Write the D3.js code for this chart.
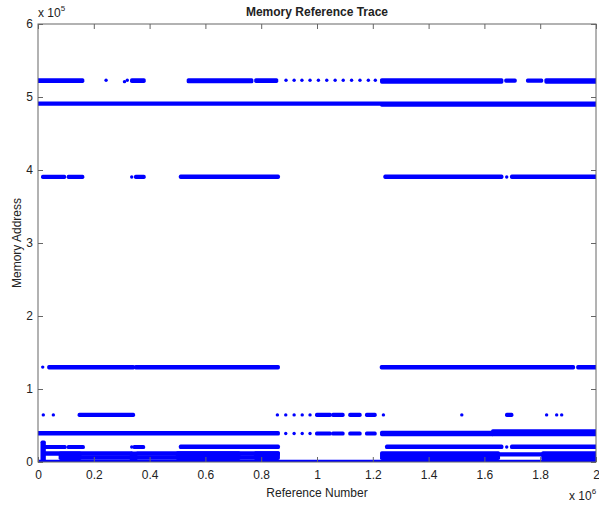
<!DOCTYPE html>
<html>
<head>
<meta charset="utf-8">
<script src="https://cdn.jsdelivr.net/npm/d3@7"></script>
<style>
  body { margin: 0; background: #fff; }
  #chart text { font-family: "Liberation Sans", Arial, sans-serif; fill: #222; }
</style>
</head>
<body>
<div id="chart"></div>
<script>
// x values in units of 1e6 references, addresses in units of 1e5
const xTicks = [0, 0.2, 0.4, 0.6, 0.8, 1, 1.2, 1.4, 1.6, 1.8, 2];
const yTicks = [0, 1, 2, 3, 4, 5, 6];

// runs of dense references: [refStart, refEnd, addrLow, addrHigh]
const band523Runs = [
  [0.0, 0.16, 5.215, 5.235], [0.336, 0.38, 5.215, 5.235], [0.539, 0.766, 5.21, 5.235],
  [0.781, 0.855, 5.215, 5.235], [1.232, 1.662, 5.205, 5.235], [1.677, 1.71, 5.22, 5.23],
  [1.755, 1.805, 5.22, 5.23], [1.821, 2.0, 5.205, 5.235]
];
const band523Dots = [
  [0.244, 5.23], [0.31, 5.21], [0.32, 5.23],
  [0.889, 5.23], [0.918, 5.23], [0.946, 5.23], [0.975, 5.23], [1.005, 5.23], [1.035, 5.23],
  [1.065, 5.23], [1.094, 5.23], [1.124, 5.23], [1.154, 5.23], [1.184, 5.23], [1.209, 5.23]
];
const band490Runs = [
  [0.0, 2.0, 4.905, 4.915], [1.232, 2.0, 4.89, 4.905]
];
const band390Runs = [
  [0.017, 0.095, 3.90, 3.91], [0.109, 0.16, 3.90, 3.91], [0.35, 0.38, 3.90, 3.91],
  [0.511, 0.861, 3.90, 3.915], [1.244, 1.662, 3.90, 3.915], [1.698, 2.0, 3.90, 3.915]
];
const band390Dots = [[0.336, 3.905], [1.68, 3.905]];
const band130Runs = [
  [0.039, 0.342, 1.29, 1.305], [0.35, 0.861, 1.29, 1.305],
  [1.231, 1.919, 1.29, 1.305], [1.935, 2.0, 1.29, 1.305]
];
const band130Dots = [[0.017, 1.30]];
const band065Runs = [
  [0.148, 0.342, 0.64, 0.65], [0.999, 1.047, 0.64, 0.65], [1.057, 1.093, 0.64, 0.65],
  [1.118, 1.154, 0.64, 0.65], [1.178, 1.208, 0.64, 0.65], [1.68, 1.698, 0.64, 0.65]
];
const band065Dots = [
  [0.019, 0.645], [0.055, 0.645], [0.858, 0.645], [0.888, 0.645], [0.918, 0.645],
  [0.947, 0.645], [0.975, 0.645], [1.238, 0.645], [1.519, 0.645],
  [1.823, 0.645], [1.859, 0.645], [1.877, 0.645]
];
const band040Runs = [
  [0.0, 0.861, 0.385, 0.40], [0.999, 1.047, 0.385, 0.395], [1.057, 1.093, 0.385, 0.395],
  [1.118, 1.154, 0.385, 0.395], [1.178, 1.208, 0.385, 0.395],
  [1.232, 1.63, 0.375, 0.405], [1.63, 2.0, 0.375, 0.425]
];
const band040Dots = [[0.888, 0.39], [0.918, 0.39], [0.947, 0.39], [0.975, 0.39]];
const band020Runs = [
  [0.025, 0.097, 0.20, 0.21], [0.109, 0.162, 0.20, 0.21], [0.345, 0.378, 0.20, 0.21],
  [0.511, 0.861, 0.20, 0.215], [1.25, 1.662, 0.20, 0.215], [1.698, 2.0, 0.20, 0.215]
];
const band020Dots = [[0.336, 0.205], [1.68, 0.205]];
const band010Runs = [
  [0.02, 0.335, 0.11, 0.125], [0.08, 0.15, 0.05, 0.12], [0.15, 0.335, 0.055, 0.07],
  [0.355, 0.861, 0.11, 0.125], [0.355, 0.5, 0.055, 0.07], [0.5, 0.72, 0.05, 0.125],
  [0.72, 0.78, 0.055, 0.07], [0.78, 0.861, 0.05, 0.125],
  [1.232, 1.65, 0.05, 0.125], [1.65, 2.0, 0.10, 0.11], [1.81, 2.0, 0.045, 0.125]
];
const scatterRuns = [
  [0.015, 0.022, 0.0, 0.27], [0.335, 0.35, 0.0, 0.12]
];
const band000Runs = [[0.0, 2.0, 0.0, 0.008]];

/** Class drawing the memory reference scatter trace. */
class TraceChart {

  constructor(){
    this.margin = {top: 24, right: 3, bottom: 46, left: 38};
    this.width = 599 - this.margin.left - this.margin.right;
    this.height = 508 - this.margin.top - this.margin.bottom;

    this.svg = d3.select("#chart").append("svg")
        .attr("width", 599)
        .attr("height", 508);
    this.plot = this.svg.append("g")
        .attr("transform", `translate(${this.margin.left},${this.margin.top})`);
  };

  update (){
    let xscale = d3.scaleLinear().domain([0, 2]).range([0, this.width]);
    let yscale = d3.scaleLinear().domain([0, 6]).range([this.height, 0]);
    let dotR = 1.7;

    this.svg.append("clipPath").attr("id", "clip")
        .append("rect")
        .attr("x", this.margin.left).attr("y", this.margin.top)
        .attr("width", this.width).attr("height", this.height);

    let runs = [].concat(band523Runs, band490Runs, band390Runs, band130Runs,
        band065Runs, band040Runs, band020Runs, band010Runs, scatterRuns, band000Runs);
    let dots = [].concat(band523Dots, band390Dots, band130Dots, band065Dots,
        band040Dots, band020Dots);

    let marks = this.plot.append("g")
        .attr("clip-path", "url(#clip)")
        .attr("transform", `translate(${-this.margin.left},${-this.margin.top})`)
        .append("g")
        .attr("transform", `translate(${this.margin.left},${this.margin.top})`);

    marks.selectAll("rect.run").data(runs).enter().append("rect")
        .attr("class", "run")
        .attr("x", d => xscale(d[0]) - dotR)
        .attr("y", d => yscale(d[3]) - dotR)
        .attr("width", d => xscale(d[1]) - xscale(d[0]) + 2 * dotR)
        .attr("height", d => yscale(d[2]) - yscale(d[3]) + 2 * dotR)
        .attr("rx", dotR)
        .style("fill", "#0000ff");

    marks.selectAll("circle.dot").data(dots).enter().append("circle")
        .attr("class", "dot")
        .attr("cx", d => xscale(d[0]))
        .attr("cy", d => yscale(d[1]))
        .attr("r", dotR)
        .style("fill", "#0000ff");

    // axes, matlab style: inward ticks on every side
    let fmt = d => String(+d.toFixed(1));
    let bottom = this.plot.append("g")
        .attr("transform", `translate(0,${this.height})`)
        .call(d3.axisBottom(xscale).tickValues(xTicks).tickSizeInner(-5)
            .tickSizeOuter(0).tickPadding(8).tickFormat(fmt));
    let left = this.plot.append("g")
        .call(d3.axisLeft(yscale).tickValues(yTicks).tickSizeInner(-5)
            .tickSizeOuter(0).tickPadding(5).tickFormat(fmt));
    let top = this.plot.append("g")
        .call(d3.axisTop(xscale).tickValues(xTicks).tickSizeInner(-5)
            .tickSizeOuter(0).tickFormat(""));
    let right = this.plot.append("g")
        .attr("transform", `translate(${this.width},0)`)
        .call(d3.axisRight(yscale).tickValues(yTicks).tickSizeInner(-5)
            .tickSizeOuter(0).tickFormat(""));

    [bottom, left, top, right].forEach(a => {
      a.selectAll("path.domain").remove();
      a.selectAll("line").style("stroke", "#666");
      a.selectAll("text").style("font-size", "12px").style("fill", "#222");
    });

    this.plot.append("rect")
        .attr("width", this.width)
        .attr("height", this.height)
        .style("fill", "none")
        .style("stroke", "#666")
        .style("stroke-width", 1);

    // title and labels
    this.svg.append("text")
        .attr("x", this.margin.left + this.width / 2)
        .attr("y", 16)
        .style("text-anchor", "middle")
        .style("font-size", "12px")
        .style("font-weight", "bold")
        .text("Memory Reference Trace");

    this.svg.append("text")
        .attr("x", this.margin.left + this.width / 2)
        .attr("y", 497)
        .style("text-anchor", "middle")
        .style("font-size", "12px")
        .text("Reference Number");

    this.svg.append("text")
        .attr("transform", `translate(21,${this.margin.top + this.height / 2}) rotate(-90)`)
        .style("text-anchor", "middle")
        .style("font-size", "12px")
        .text("Memory Address");

    let yExp = this.svg.append("text")
        .attr("x", 38).attr("y", 17)
        .style("font-size", "12px");
    yExp.append("tspan").text("x 10");
    yExp.append("tspan").attr("dy", -6).style("font-size", "8px").text("5");

    let xExp = this.svg.append("text")
        .attr("x", 569).attr("y", 500)
        .style("font-size", "12px");
    xExp.append("tspan").text("x 10");
    xExp.append("tspan").attr("dy", -6).style("font-size", "8px").text("6");
  };
}

let chart = new TraceChart();
chart.update();
</script>
</body>
</html>
